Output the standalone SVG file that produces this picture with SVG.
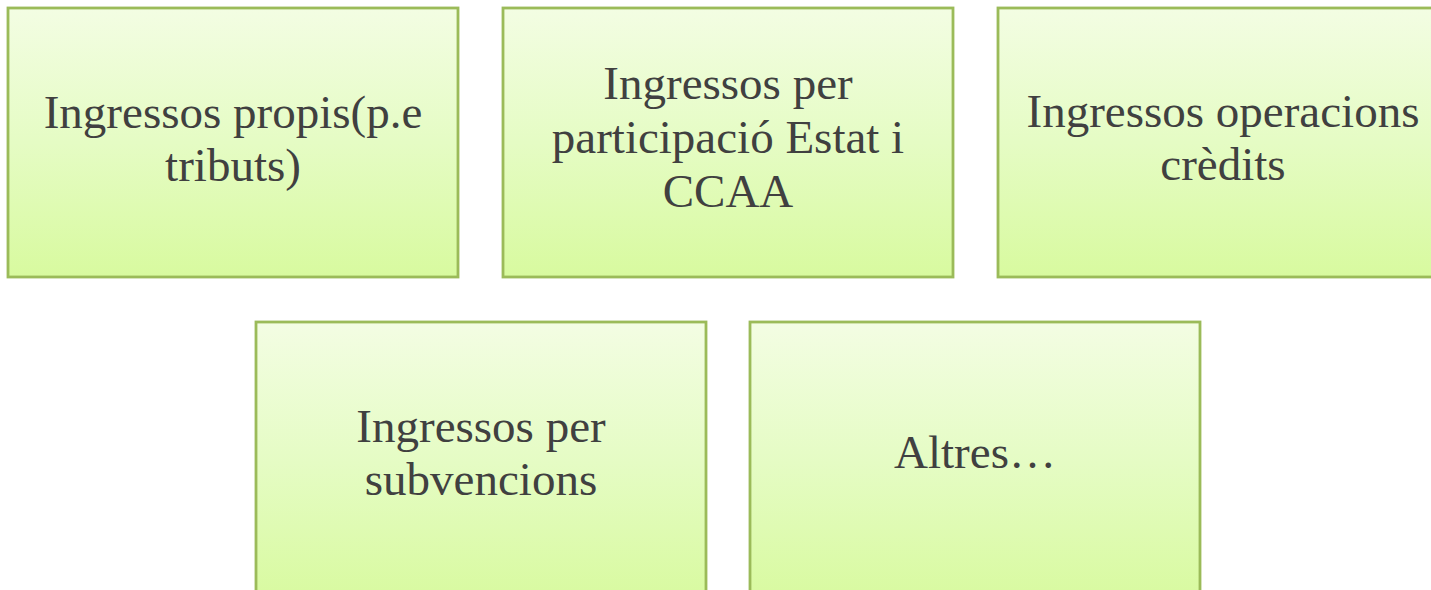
<svg xmlns="http://www.w3.org/2000/svg" width="1431" height="590" viewBox="0 0 1431 590">
<defs>
<linearGradient id="g" x1="0" y1="0" x2="0" y2="1">
<stop offset="0" stop-color="#f3fde3"/>
<stop offset="0.5" stop-color="#e5fcc4"/>
<stop offset="1" stop-color="#d8fa9f"/>
</linearGradient>
</defs>
<style>
.box{fill:url(#g);stroke:#9bbb59;stroke-width:2.8}
.t{font-family:"Liberation Serif","Times New Roman",serif;font-size:47px;fill:#404040;text-anchor:middle}
</style>
<rect width="1431" height="590" fill="#ffffff"/>
<g id="connectors"></g>
<g id="n1"><rect class="box" x="8" y="8" width="450" height="269"/>
<text class="t" x="233" y="128">Ingressos propis(p.e</text><text class="t" x="233" y="181">tributs)</text></g>
<g id="n2"><rect class="box" x="503" y="8" width="450" height="269"/>
<text class="t" x="728" y="99">Ingressos per</text><text class="t" x="728" y="153">participació Estat i</text><text class="t" x="728" y="207">CCAA</text></g>
<g id="n3"><rect class="box" x="998" y="8" width="450" height="269"/>
<text class="t" x="1223" y="127">Ingressos operacions</text><text class="t" x="1223" y="180">crèdits</text></g>
<g id="n4"><rect class="box" x="256" y="322" width="450" height="280"/>
<text class="t" x="481" y="442">Ingressos per</text><text class="t" x="481" y="495">subvencions</text></g>
<g id="n5"><rect class="box" x="750" y="322" width="450" height="280"/>
<text class="t" x="975" y="468">Altres…</text></g>
</svg>
